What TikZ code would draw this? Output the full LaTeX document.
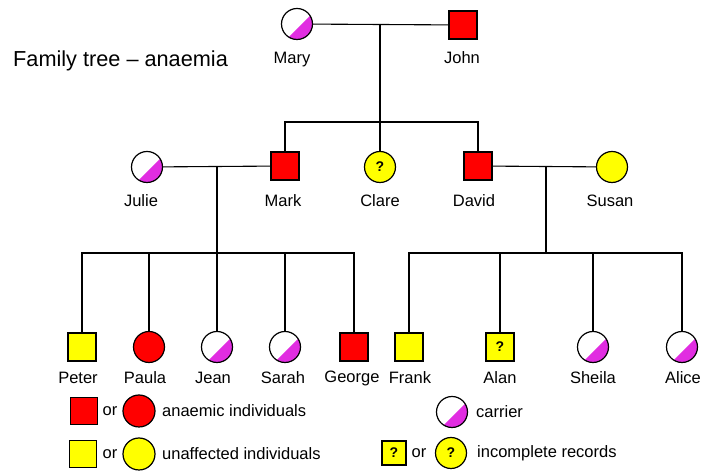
\documentclass[tikz,border=0pt]{standalone}
\usepackage{fontspec}
\setmainfont{Liberation Sans}
\usepackage{xcolor}
\usepackage{tikz}
\usetikzlibrary{calc}

\definecolor{anred}{RGB}{255,0,0}
\definecolor{unyellow}{RGB}{255,255,0}
\definecolor{carmag}{RGB}{225,45,225}

\begin{document}
\begin{tikzpicture}[x=1pt, y=1pt,
 male/.style={draw=black, line width=1.2pt, rectangle, minimum size=28pt, inner sep=0pt},
 female/.style={draw=black, line width=1.2pt, circle, minimum size=31pt, inner sep=0pt},
 anaemic/.style={fill=anred},
 unaff/.style={fill=unyellow},
 unknown/.style={fill=unyellow, font=\fontsize{14}{14}\selectfont\bfseries, text=black},
 carrier/.style={fill=white, path picture={
   \fill[carmag] ($(path picture bounding box.center)+(235:20pt)$) -- ($(path picture bounding box.center)+(35:20pt)$) -- ($(path picture bounding box.center)+(315:30pt)$) -- cycle;}},
 pname/.style={font=\fontsize{16.5}{18}\selectfont, inner sep=0pt},
 tieline/.style={black, line width=1.1pt}]

\useasboundingbox (0,0) rectangle (716,471);

\node[font=\fontsize{21.7}{24}\selectfont, anchor=west, inner sep=0pt] (title) at (13,410) {Family tree -- anaemia};

% grandparents
\node[female, carrier] (mary) at (297,447) {};
\node[male, anaemic] (john) at (463,446) {};
\node[pname, anchor=base] (marytxt) at (292,407) {Mary};
\node[pname, anchor=base] (johntxt) at (462,407) {John};

% parents
\node[female, carrier] (julie) at (147,304) {};
\node[male, anaemic] (mark) at (285,305) {};
\node[female, unknown] (clare) at (380,304) {?};
\node[male, anaemic] (david) at (478,305) {};
\node[female, unaff] (susan) at (612,304) {};

\node[pname] (julietxt) at (141,270) {Julie};
\node[pname] (marktxt) at (283,270) {Mark};
\node[pname] (claretxt) at (380,270) {Clare};
\node[pname] (davidtxt) at (474,270) {David};
\node[pname] (susantxt) at (610,270) {Susan};

% children
\node[male, unaff] (peter) at (82,124) {};
\node[female, anaemic] (paula) at (149,124) {};
\node[female, carrier] (jean) at (217,124) {};
\node[female, carrier] (sarah) at (285,124) {};
\node[male, anaemic] (george) at (354,124) {};
\node[male, unaff] (frank) at (409,124) {};
\node[male, unknown] (alan) at (500,124) {?};
\node[female, carrier] (sheila) at (593,124) {};
\node[female, carrier] (alice) at (682,124) {};

\node[pname] (petertxt) at (78,93) {Peter};
\node[pname] (paulatxt) at (145,93) {Paula};
\node[pname] (jeantxt) at (213,93) {Jean};
\node[pname] (sarahtxt) at (283,93) {Sarah};
\node[pname] (georgetxt) at (352,93) {George};
\node[pname] (franktxt) at (410,93) {Frank};
\node[pname] (alantxt) at (500,93) {Alan};
\node[pname] (sheilatxt) at (593,93) {Sheila};
\node[pname] (alicetxt) at (683,93) {Alice};

% lines of descent
\coordinate (mj) at (380,447);
\coordinate (mjkids) at (380,349);
\coordinate (jm) at (217,304);
\coordinate (jmkids) at (217,218);
\coordinate (ds) at (546,304);
\coordinate (dskids) at (546,218);

\draw[tieline] (mary) -- (john);
\draw[tieline] (mj) -- (mjkids);
\draw[tieline] (mark.north) |- (mjkids) -| (david.north);
\draw[tieline] (mjkids) -- (clare);

\draw[tieline] (julie) -- (mark);
\draw[tieline] (jm) -- (jmkids);
\draw[tieline] (peter.north) |- (jmkids) -| (george.north);
\foreach \k in {paula,jean,sarah}
 \draw[tieline] (\k.north) -- (\k.north |- jmkids);

\draw[tieline] (david) -- (susan);
\draw[tieline] (ds) -- (dskids);
\draw[tieline] (frank.north) |- (dskids) -| (alice.north);
\foreach \k in {alan,sheila}
 \draw[tieline] (\k.north) -- (\k.north |- dskids);

% key
\node[male, anaemic, minimum size=27pt] (keyas) at (84,60) {};
\node[pname] (keyor1) at (110,60) {or};
\node[female, anaemic, minimum size=32pt] (keyac) at (139,60) {};
\node[pname, anchor=west] (keyatxt) at (162,60) {anaemic individuals};

\node[male, unaff, minimum size=27pt] (keyus) at (83,17) {};
\node[pname] (keyor2) at (110,17) {or};
\node[female, unaff, minimum size=32pt] (keyuc) at (139,17) {};
\node[pname, anchor=west] (keyutxt) at (162,17) {unaffected individuals};

\node[female, carrier] (keycc) at (452,59) {};
\node[pname, anchor=west] (keyctxt) at (476,59) {carrier};

\node[male, unknown, minimum size=24pt] (keyqs) at (394,18) {?};
\node[pname] (keyor3) at (419,18) {or};
\node[female, unknown, minimum size=31pt] (keyqc) at (451,18) {?};
\node[pname, anchor=west] (keyqtxt) at (477,18) {incomplete records};

\end{tikzpicture}
\end{document}
